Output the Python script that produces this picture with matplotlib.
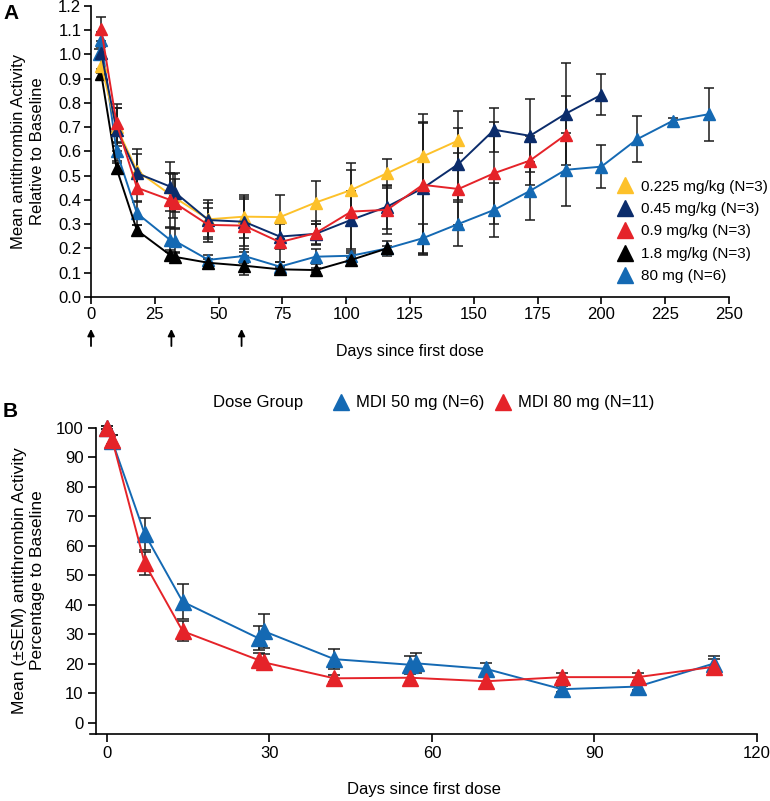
import matplotlib
matplotlib.use('Agg')
import matplotlib.pyplot as plt
from matplotlib.lines import Line2D

plt.rcParams['font.family'] = ['Liberation Sans', 'DejaVu Sans']

# Panel A: antithrombin activity relative to baseline
yellow_days = [4, 10, 18, 32, 46, 60, 74, 88, 102, 116, 130, 144]
yellow_vals = [0.953, 0.70, 0.52, 0.415, 0.32, 0.331, 0.329, 0.389, 0.441, 0.51, 0.579, 0.645]
yellow_err = [0.03, 0.08, 0.09, 0.09, 0.08, 0.09, 0.09, 0.09, 0.11, 0.06, 0.14, 0.12]

navy_days = [4, 10, 18, 31, 33, 46, 60, 74, 88, 102, 116, 130, 144, 158, 172, 186, 200]
navy_vals = [1.005, 0.69, 0.51, 0.455, 0.43, 0.317, 0.31, 0.249, 0.26, 0.318, 0.372,
             0.448, 0.548, 0.689, 0.664, 0.755, 0.833]
navy_err = [0.03, 0.09, 0.08, 0.10, 0.08, 0.07, 0.10, 0.05, 0.04, 0.12, 0.09,
            0.27, 0.15, 0.09, 0.15, 0.21, 0.085]

red_days = [4, 10, 18, 31, 33, 46, 60, 74, 88, 102, 116, 130, 144, 158, 172, 186]
red_vals = [1.104, 0.716, 0.45, 0.40, 0.386, 0.297, 0.294, 0.226, 0.263, 0.352, 0.359,
            0.462, 0.445, 0.51, 0.562, 0.668]
red_err = [0.05, 0.08, 0.06, 0.11, 0.10, 0.07, 0.11, 0.08, 0.05, 0.17, 0.10,
           0.29, 0.15, 0.21, 0.10, 0.16]

black_days = [4, 10, 18, 31, 33, 46, 60, 74, 88, 102, 116]
black_vals = [0.92, 0.53, 0.275, 0.173, 0.165, 0.141, 0.129, 0.114, 0.111, 0.153, 0.20]
black_err = [0.02, 0.02, 0.02, 0.02, 0.02, 0.015, 0.04, 0.01, 0.01, 0.01, 0.01]

blue_days = [3, 4, 10, 18, 31, 33, 46, 60, 74, 88, 102, 116, 130, 144, 158, 172, 186,
             200, 214, 228, 242]
blue_vals = [1.0, 1.06, 0.60, 0.345, 0.235, 0.23, 0.153, 0.169, 0.125, 0.166, 0.17, 0.2,
             0.242, 0.301, 0.359, 0.437, 0.524, 0.537, 0.65, 0.726, 0.753]
blue_err = [0.02, 0.03, 0.04, 0.05, 0.05, 0.05, 0.02, 0.03, 0.02, 0.03, 0.02, 0.03,
            0.06, 0.09, 0.11, 0.12, 0.15, 0.09, 0.095, 0.01, 0.11]

dose_days = [0, 31.5, 59]

# Panel B: MDI dose groups, % of baseline
mdi50_days = [0, 1, 7, 14, 28, 29, 42, 56, 57, 70, 84, 98, 112]
mdi50_vals = [100, 95.5, 64, 41, 28.6, 31, 21.5, 19.6, 20.1, 18.2, 11.3, 12.2, 20]
mdi50_sem = [0.5, 2, 5.3, 6, 4, 5.8, 3.5, 3, 3.4, 2, 1, 1, 2.7]

mdi80_days = [0, 1, 7, 14, 28, 29, 42, 56, 70, 84, 98, 112]
mdi80_vals = [100, 96, 54, 31, 21.2, 20.4, 15, 15.2, 14, 15.4, 15.4, 18.9]
mdi80_sem = [0.5, 1.5, 4, 3.5, 2.5, 2.7, 1.2, 2.2, 1.8, 1.3, 1.4, 2.6]

YELLOW = '#FDC12A'
NAVY = '#0B2C6B'
RED = '#E52329'
BLACK = '#000000'
BLUE = '#1469B3'

W, H = 770, 801
fig = plt.figure(figsize=(W / 100, H / 100), dpi=100)


def px_axes(left, top, right, bottom):
    return fig.add_axes([left / W, 1 - bottom / H, (right - left) / W, (bottom - top) / H])


# ---------- Panel A ----------
axA = px_axes(91, 5.7, 729, 297)
series_a = [
    (yellow_days, yellow_vals, yellow_err, YELLOW, '0.225 mg/kg (N=3)'),
    (navy_days, navy_vals, navy_err, NAVY, '0.45 mg/kg (N=3)'),
    (red_days, red_vals, red_err, RED, '0.9 mg/kg (N=3)'),
    (black_days, black_vals, black_err, BLACK, '1.8 mg/kg (N=3)'),
    (blue_days, blue_vals, blue_err, BLUE, '80 mg (N=6)'),
]
# error bars first, lines over them
for days, vals, err, color, label in series_a:
    axA.errorbar(days, vals, yerr=err, fmt='none', ecolor='#1a1a1a', elinewidth=1.1,
                 capsize=3.5, capthick=1.1, zorder=2, clip_on=False)
for days, vals, err, color, label in [series_a[4], series_a[3], series_a[0], series_a[1], series_a[2]]:
    axA.plot(days, vals, '-^', color=color, linewidth=1.4, markersize=8, zorder=3, clip_on=False)
handles_a = [Line2D([], [], linestyle='none', marker='^', color=c, markersize=11, label=l)
             for _, _, _, c, l in series_a]

axA.set_xlim(0, 250)
axA.set_ylim(0, 1.2)
axA.set_xticks(range(0, 251, 25))
axA.set_yticks([i / 10 for i in range(13)])
axA.set_yticklabels([f'{i / 10:.1f}' for i in range(13)])
axA.tick_params(labelsize=12, direction='out', length=5, width=1.2, pad=2)
for s in ['top', 'right']:
    axA.spines[s].set_visible(False)
for s in ['left', 'bottom']:
    axA.spines[s].set_linewidth(1.2)
axA.set_xlabel('Days since first dose', fontsize=11.5)
axA.xaxis.set_label_coords(0.5, -0.16)
axA.set_ylabel('Mean antithrombin Activity\nRelative to Baseline', fontsize=12, linespacing=1.35)
axA.yaxis.set_label_coords(-0.072, 0.5)

for d in dose_days:
    axA.annotate('', xy=(d, -0.10), xycoords=('data', 'axes fraction'),
                 xytext=(d, -0.178), textcoords=('data', 'axes fraction'),
                 arrowprops=dict(arrowstyle='-|>', color='black', lw=1.3, mutation_scale=10))

axA.legend(handles=handles_a, loc='upper left', bbox_to_anchor=(610 / W, 1 - 172 / H),
           bbox_transform=fig.transFigure, frameon=False, fontsize=11,
           handlelength=1.0, handletextpad=0.5, labelspacing=0.55, borderpad=0)

fig.text(3 / W, 1 - 4 / H, 'A', fontsize=15, fontweight='bold', va='top', ha='left')

# ---------- Panel B ----------
axB = px_axes(90, 427, 757, 734)
axB.errorbar(mdi50_days, mdi50_vals, yerr=mdi50_sem, fmt='none', ecolor='#1a1a1a',
             elinewidth=1.1, capsize=4, capthick=1.1, zorder=2, clip_on=False)
axB.errorbar(mdi80_days, mdi80_vals, yerr=mdi80_sem, fmt='none', ecolor='#1a1a1a',
             elinewidth=1.1, capsize=4, capthick=1.1, zorder=2, clip_on=False)
axB.plot(mdi50_days, mdi50_vals, '-^', color=BLUE, linewidth=1.4, markersize=11, zorder=3, clip_on=False)
axB.plot(mdi80_days, mdi80_vals, '-^', color=RED, linewidth=1.4, markersize=11, zorder=3, clip_on=False)

axB.set_xlim(-3.1, 120)
axB.set_ylim(-3.9, 100.3)
axB.spines['left'].set_position(('data', -2))
axB.spines['left'].set_bounds(-3.9, 100)
axB.set_xticks([0, 30, 60, 90, 120])
axB.set_yticks(range(0, 101, 10))
axB.tick_params(labelsize=12, direction='out', length=6, width=1.2, pad=3)
for s in ['top', 'right']:
    axB.spines[s].set_visible(False)
for s in ['left', 'bottom']:
    axB.spines[s].set_linewidth(1.2)
axB.set_xlabel('Days since first dose', fontsize=12)
axB.xaxis.set_label_coords(0.5, -0.155)
axB.set_ylabel('Mean (\u00b1SEM) antithrombin Activity\nPercentage to Baseline', fontsize=12.5,
               linespacing=1.25)
axB.yaxis.set_label_coords(-0.068, 0.5)

handles_b = [Line2D([], [], linestyle='none', marker='^', color=BLUE, markersize=12, label='MDI 50 mg (N=6)'),
             Line2D([], [], linestyle='none', marker='^', color=RED, markersize=12, label='MDI 80 mg (N=11)')]
axB.legend(handles=handles_b, loc='center left', bbox_to_anchor=(324 / W, 1 - 403 / H),
           bbox_transform=fig.transFigure, ncol=2, frameon=False, fontsize=12,
           handlelength=1.0, handletextpad=0.4, columnspacing=0.65, borderpad=0)
fig.text(213 / W, 1 - 403 / H, 'Dose Group', fontsize=12, va='center', ha='left')

fig.text(3 / W, 1 - 402 / H, 'B', fontsize=15, fontweight='bold', va='top', ha='left')

fig.savefig('out.png', dpi=100)
